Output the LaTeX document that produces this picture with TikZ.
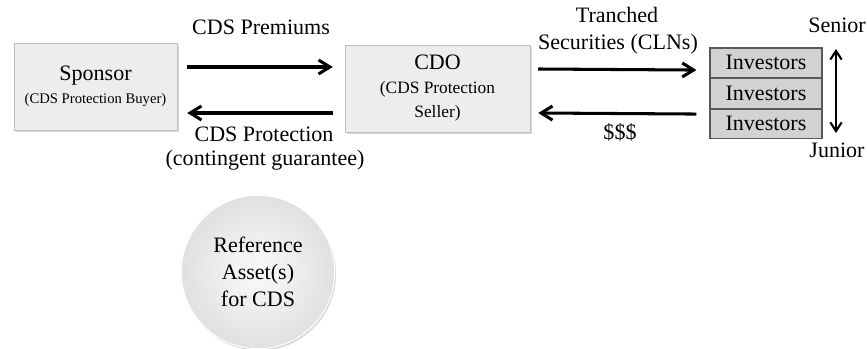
\documentclass[tikz,border=0pt]{standalone}
\usepackage{fontspec}
\setmainfont{Liberation Serif}
\usepackage{xcolor}
\usepackage{tikz}
\usetikzlibrary{shapes,backgrounds,calc,shadows,positioning,arrows.meta}

\newcommand{\mainsize}{\fontsize{18.8}{23}\selectfont}
\newcommand{\sellersize}{\fontsize{14.8}{17}\selectfont}
\newcommand{\buyersize}{\fontsize{12.5}{15}\selectfont}

\begin{document}
\begin{tikzpicture}[x=0.03cm,y=-0.03cm]
        % Define the styles for boxes, tranches and flows
        \tikzstyle{party}=[draw=gray!50, fill=gray!14, minimum height=2.61cm, align=center, inner sep=2pt,
            drop shadow={opacity=0.3, shadow xshift=0.5mm, shadow yshift=-0.6mm}, font=\mainsize];
        \tikzstyle{tranche}=[draw=gray!70!black, fill=gray!35, line width=0.9pt, minimum width=3.36cm,
            minimum height=0.885cm, inner sep=0pt, font=\mainsize];
        \tikzstyle{flow}=[line width=2.6pt, -{Straight Barb[length=3.4mm,width=4.2mm]}];
        \tikzstyle{flowtext}=[font=\mainsize, inner sep=0pt];

        \useasboundingbox (0,0) rectangle (867,349);

        % Sponsor and CDO
        \node[party, minimum width=4.89cm] (sponsor) at (95.5,86.5)
            {Sponsor\\[-3pt]{\buyersize (CDS Protection Buyer)}};
        \node[party, minimum width=5.55cm] (cdo) at (437.5,88.5)
            {CDO\\[-3pt]{\sellersize (CDS Protection}\\[-2pt]{\sellersize Seller)}};

        % Stack of investors
        \node[tranche] (inv1) at (766,62.75) {Investors};
        \node[tranche, below=0pt of inv1] (inv2) {Investors};
        \node[tranche, below=0pt of inv2] (inv3) {Investors};

        % Reference asset
        \node[circle, minimum size=4.6cm, align=center, font=\mainsize, shading=radial,
            inner color=gray!4, outer color=gray!24, draw=white, line width=0.8pt,
            drop shadow={opacity=0.3, shadow xshift=0.4mm, shadow yshift=-0.6mm}] (refasset) at (258,272)
            {Reference\\Asset(s)\\for CDS};

        % Ends of the flows
        \coordinate (premA) at ($(sponsor.east)+(10,-19.5)$);
        \coordinate (premB) at ($(cdo.west)+(-12,-21.5)$);
        \coordinate (protA) at ($(cdo.west)+(-12,24.5)$);
        \coordinate (protB) at ($(sponsor.east)+(10,26.5)$);
        \coordinate (trA) at ($(cdo.east)+(8,-19.5)$);
        \coordinate (trB) at ($(inv2.west)+(-13,-23.25)$);
        \coordinate (cashA) at ($(inv2.west)+(-13,20.75)$);
        \coordinate (cashB) at ($(cdo.east)+(8,24.5)$);

        % Draw the flows
        \draw[flow] (premA) -- (premB);
        \draw[flow] (protA) -- (protB);
        \draw[flow] (trA) -- (trB);
        \draw[flow] (cashA) -- (cashB);

        % Flow labels
        \node[flowtext, anchor=base] (premtext) at (261,35) {CDS Premiums};
        \node[flowtext, anchor=base] (prottext) at (264,142) {CDS Protection};
        \node[flowtext, anchor=base] (guartext) at (265,166) {(contingent guarantee)};
        \node[flowtext, anchor=base] (trtext) at (617,23) {Tranched};
        \node[flowtext, anchor=base] (sectext) at (618,50) {Securities (CLNs)};
        \node[flowtext, anchor=base] (cashtext) at (620,140) {\$\$\$};

        % Seniority
        \node[flowtext, anchor=base] (senior) at (837,33) {Senior};
        \node[flowtext, anchor=base] (junior) at (837,158) {Junior};
        \coordinate (topend) at ($(senior.base)+(-1,16)$);
        \coordinate (botend) at ($(junior.base)+(-1,-25)$);
        \draw[line width=1.8pt, {Straight Barb[length=2.6mm,width=3.4mm]}-{Straight Barb[length=2.6mm,width=3.4mm]}]
            (topend) -- (botend);

    \end{tikzpicture}
\end{document}
